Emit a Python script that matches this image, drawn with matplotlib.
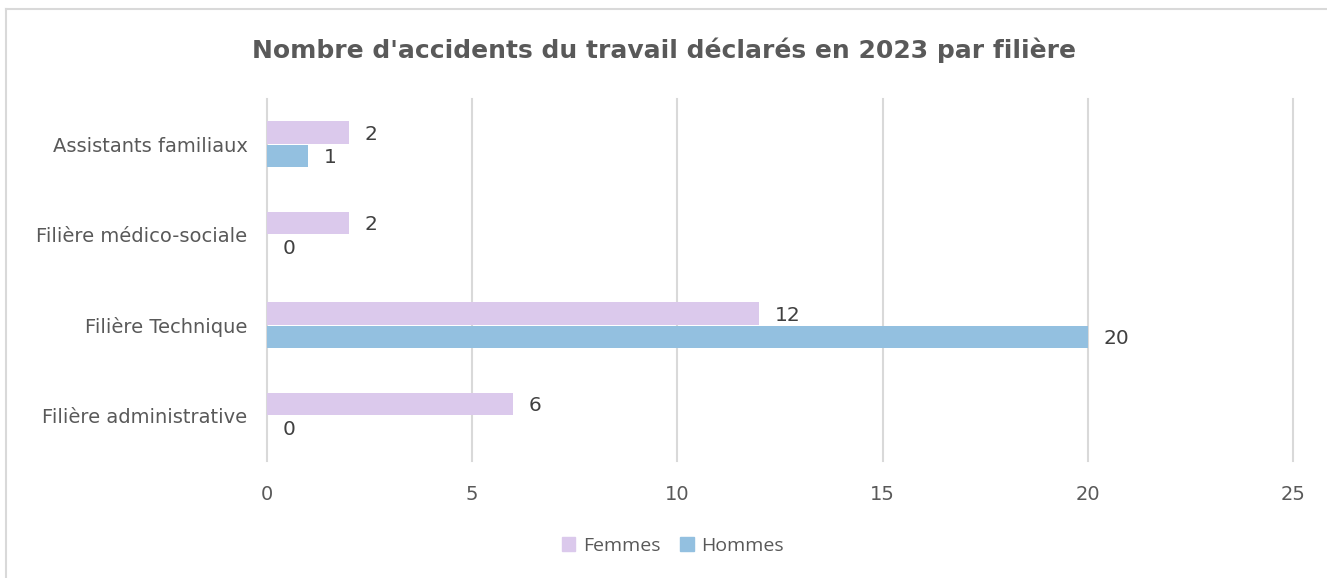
import numpy as np
import matplotlib.pyplot as plt
from matplotlib.lines import Line2D
from matplotlib.patches import Patch

categories = ["Assistants familiaux", "Filière médico-sociale", "Filière Technique", "Filière administrative"]
femmes = [2, 2, 12, 6]
hommes = [1, 0, 20, 0]
xticks = [0, 5, 10, 15, 20, 25]
title = "Nombre d'accidents du travail déclarés en 2023 par filière"

col_f = "#DBC9EC"
col_h = "#93C0E0"
grey = "#595959"

plt.rcParams["font.family"] = ["DejaVu Sans"]

fig = plt.figure(figsize=(13.27, 5.78), dpi=100)
ax = fig.add_axes([267 / 1327, 1 - 461 / 578, 1026 / 1327, 362 / 578])

y = np.arange(len(categories))
h = 0.26
bf = ax.barh(y - h / 2, femmes, height=h * 0.97, color=col_f, edgecolor="none", zorder=3)
bh = ax.barh(y + h / 2, hommes, height=h * 0.97, color=col_h, edgecolor="none", zorder=3)

# etiquettes de valeurs
for bars, vals in ((bf, femmes), (bh, hommes)):
    for b, v in zip(bars, vals):
        ax.annotate(str(v), (v, b.get_y() + b.get_height() / 2 + 0.02),
                    xytext=(11, 0), textcoords="offset points",
                    ha="left", va="center", fontsize=14.5, color="#404040")

ax.set_xlim(0, 25)
ax.set_ylim(3.5, -0.5)
ax.set_xticks(xticks)
ax.set_xticklabels([str(t) for t in xticks])
ax.set_yticks(y)
ax.set_yticklabels(categories)
ax.tick_params(axis="x", length=0, pad=17, labelsize=14, labelcolor=grey)
ax.tick_params(axis="y", length=0, pad=14, labelsize=14, labelcolor=grey)
ax.grid(axis="x", color="#D9D9D9", linewidth=1.5, zorder=0)
for gl in ax.get_xgridlines():
    gl.set_clip_on(False)
for s in ax.spines.values():
    s.set_visible(False)

fig.text(0.5, 1 - 50 / 578, title, ha="center", va="center",
         fontsize=18, fontweight="bold", color=grey)

handles = [Patch(color=col_f, label="Femmes"), Patch(color=col_h, label="Hommes")]
fig.legend(handles=handles, loc="center", bbox_to_anchor=(673 / 1327, 1 - 546 / 578),
           ncol=2, frameon=False, handlelength=0.7, handleheight=0.7,
           handletextpad=0.4, columnspacing=1.0, labelcolor=grey,
           prop={"family": ["Open Sans", "DejaVu Sans"], "size": 14})

# cadre leger
fig.add_artist(Line2D([6 / 1327, 1], [1 - 9 / 578, 1 - 9 / 578], color="#D9D9D9", linewidth=1.5))
fig.add_artist(Line2D([6 / 1327, 6 / 1327], [0, 1 - 9 / 578], color="#D9D9D9", linewidth=1.5))

fig.savefig("out.png", dpi=100, facecolor="white")
